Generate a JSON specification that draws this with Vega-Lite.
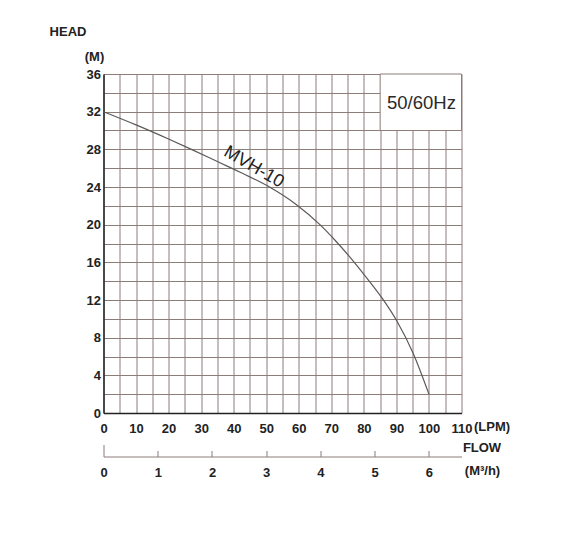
{
  "$schema": "https://vega.github.io/schema/vega-lite/v6.json",
  "width": 358,
  "height": 339,
  "autosize": {"type": "none"},
  "padding": {"left": 103.5, "top": 74, "right": 116.5, "bottom": 144},
  "background": "white",
  "config": {
    "view": {"stroke": null},
    "font": "Liberation Sans",
    "axis": {
      "labelFontSize": 13,
      "labelFontWeight": "bold",
      "labelColor": "#222222",
      "labelFlush": false,
      "labelOverlap": false,
      "titleFontSize": 13,
      "titleFontWeight": "bold",
      "titleColor": "#222222"
    }
  },
  "layer": [
    {
      "layer": [
        {
          "data": {"values": [{"label": "box"}]},
          "mark": {"type": "rect", "fill": "white", "stroke": "#8b7d78", "strokeWidth": 1},
          "encoding": {
            "x": {"datum": 85, "type": "quantitative"},
            "x2": {"datum": 110},
            "y": {"datum": 30, "type": "quantitative"},
            "y2": {"datum": 36}
          }
        },
        {
          "data": {
            "values": [
              {"flow_lpm": 0, "head_m": 32},
              {"flow_lpm": 10, "head_m": 30.6},
              {"flow_lpm": 20, "head_m": 29.1},
              {"flow_lpm": 27, "head_m": 28},
              {"flow_lpm": 35, "head_m": 26.7},
              {"flow_lpm": 43, "head_m": 25.4},
              {"flow_lpm": 51, "head_m": 24},
              {"flow_lpm": 59, "head_m": 22.2},
              {"flow_lpm": 66.5, "head_m": 20},
              {"flow_lpm": 71, "head_m": 18.4},
              {"flow_lpm": 77.3, "head_m": 15.9},
              {"flow_lpm": 82, "head_m": 13.85},
              {"flow_lpm": 85.6, "head_m": 12.2},
              {"flow_lpm": 90.1, "head_m": 9.8},
              {"flow_lpm": 95.2, "head_m": 6.3},
              {"flow_lpm": 100, "head_m": 2}
            ]
          },
          "mark": {"type": "line", "interpolate": "monotone", "color": "#5a5a5a", "strokeWidth": 1.2},
          "encoding": {
            "x": {
              "field": "flow_lpm",
              "type": "quantitative",
              "scale": {"domain": [0, 110], "nice": false, "zero": true},
              "axis": {
                "values": [0, 5, 10, 15, 20, 25, 30, 35, 40, 45, 50, 55, 60, 65, 70, 75, 80, 85, 90, 95, 100, 105, 110],
                "tickCount": 100,
                "format": "d",
                "labelExpr": "datum.value % 10 == 0 ? datum.label : ''",
                "ticks": false,
                "labelPadding": 9,
                "grid": true,
                "gridColor": "#8b7d78",
                "gridWidth": 1,
                "domainColor": "#222222",
                "domainWidth": 1.5,
                "title": "FLOW",
                "titleX": 378,
                "titleY": 34.5,
                "titleAlign": "center",
                "titleBaseline": "middle"
              }
            },
            "y": {
              "field": "head_m",
              "type": "quantitative",
              "scale": {"domain": [0, 36], "nice": false, "zero": true},
              "axis": {
                "values": [0, 2, 4, 6, 8, 10, 12, 14, 16, 18, 20, 22, 24, 26, 28, 30, 32, 34, 36],
                "tickCount": 100,
                "format": "d",
                "labelExpr": "datum.value % 4 == 0 ? datum.label : ''",
                "ticks": false,
                "labelPadding": 3,
                "grid": true,
                "gridColor": "#8b7d78",
                "gridWidth": 1,
                "domainColor": "#222222",
                "domainWidth": 1.5,
                "title": "(M)",
                "titleAngle": 0,
                "titleX": -9.5,
                "titleY": -18,
                "titleAlign": "center",
                "titleBaseline": "middle"
              }
            }
          }
        },
        {
          "data": {"values": [{"label": "50/60Hz"}]},
          "mark": {"type": "text", "fontSize": 18.5, "color": "#2a2a2a", "align": "center", "baseline": "middle"},
          "encoding": {
            "x": {"datum": 97.7, "type": "quantitative"},
            "y": {"datum": 32.9, "type": "quantitative"},
            "text": {"field": "label"}
          }
        },
        {
          "data": {"values": [{"label": "MVH-10"}]},
          "mark": {"type": "text", "fontSize": 18, "color": "#222222", "align": "center", "baseline": "middle", "angle": 30},
          "encoding": {
            "x": {"datum": 46.2, "type": "quantitative"},
            "y": {"datum": 26.1, "type": "quantitative"},
            "text": {"field": "label"}
          }
        },
        {
          "data": {"values": [{"label": "(LPM)"}]},
          "mark": {"type": "text", "fontSize": 13, "fontWeight": "bold", "color": "#222222", "align": "left", "baseline": "middle", "dx": 12.5, "dy": 14},
          "encoding": {
            "x": {"datum": 110, "type": "quantitative"},
            "y": {"datum": 0, "type": "quantitative"},
            "text": {"field": "label"}
          }
        },
        {
          "data": {"values": [{"label": "HEAD"}]},
          "mark": {"type": "text", "fontSize": 13, "fontWeight": "bold", "color": "#222222", "align": "center", "baseline": "middle", "dx": -35.5, "dy": -42},
          "encoding": {
            "x": {"datum": 0, "type": "quantitative"},
            "y": {"datum": 36, "type": "quantitative"},
            "text": {"field": "label"}
          }
        }
      ]
    },
    {
      "data": {"values": [{"m3h": 0}]},
      "mark": {"type": "point", "opacity": 0},
      "encoding": {
        "x": {
          "field": "m3h",
          "type": "quantitative",
          "scale": {"domain": [0, 6.6], "nice": false, "zero": true},
          "axis": {
            "orient": "bottom",
            "offset": 43.5,
            "values": [0, 1, 2, 3, 4, 5, 6],
            "tickCount": 100,
            "format": "d",
            "grid": false,
            "tickSize": {"condition": {"test": "datum.value == 0", "value": -12}, "value": -6},
            "labelPadding": {"condition": {"test": "datum.value == 0", "value": 22}, "value": 16},
            "tickColor": "#8b7d78",
            "tickWidth": 1,
            "domainColor": "#8b7d78",
            "domainWidth": 1,
            "title": "(M³/h)",
            "titleX": 378.5,
            "titleY": 14,
            "titleAlign": "center",
            "titleBaseline": "middle"
          }
        }
      }
    }
  ],
  "resolve": {"scale": {"x": "independent"}, "axis": {"x": "independent"}}
}
